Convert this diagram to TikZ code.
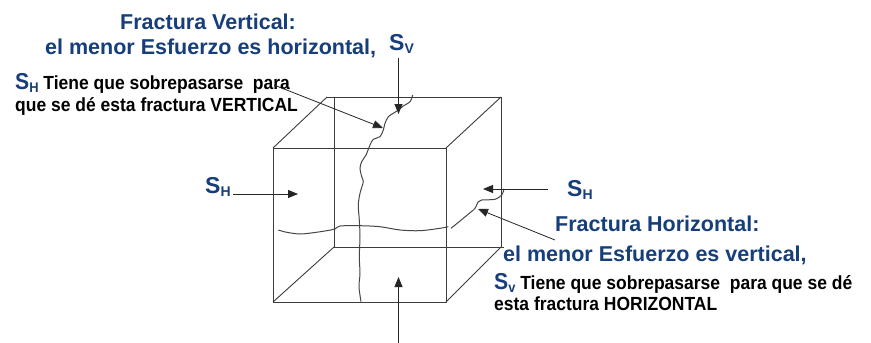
\documentclass[tikz,border=0pt]{standalone}
\usepackage{fontspec}
\setmainfont{Liberation Sans}
\newfontfamily\narrowfont[FakeStretch=0.92]{Liberation Sans}
\usetikzlibrary{arrows.meta}
\definecolor{tblue}{RGB}{22,62,122}
\definecolor{edge}{RGB}{60,60,60}
\definecolor{crack}{RGB}{70,70,70}
% stress symbol: blue S with a subscript
\newcommand\strs[1]{{\color{tblue}\bfseries\fontsize{23}{23}\selectfont S\raisebox{-3pt}{\fontsize{14}{14}\selectfont #1}}}
\tikzset{
  cubeedge/.style={draw=edge, line width=0.9pt},
  crackline/.style={draw=crack, line width=1pt},
  force/.style={draw=black!85, line width=0.9pt, -{Triangle[length=10pt,width=8pt]}},
  pointer/.style={draw=black!85, line width=0.8pt, -{Triangle[length=10pt,width=8pt]}},
  title/.style={inner sep=0pt, anchor=base west, text=tblue, font=\bfseries\fontsize{21.5}{24}\selectfont},
  note/.style={inner sep=0pt, anchor=base west, font=\narrowfont\bfseries\fontsize{19}{21}\selectfont},
  sym/.style={inner sep=0pt, anchor=base west}
}
\begin{document}
\begin{tikzpicture}[x=1pt,y=-1pt]
\useasboundingbox (0,0) rectangle (871,343);
\fill[white] (0,0) rectangle (871,343);

% cube: front face, back face and joining edges
\coordinate (f1) at (273,148);
\coordinate (f2) at (446,148);
\coordinate (f3) at (446,302);
\coordinate (f4) at (273,302);
\coordinate (b1) at (327,97);
\coordinate (b2) at (501,97);
\coordinate (b3) at (504,247);
\coordinate (bl) at (334,97);
\coordinate (b4) at (334,247);
\draw[cubeedge] (f1) -- (f2) -- (f3) -- (f4) -- cycle;
\draw[cubeedge] (b1) -- (b2) -- (501,247);
\draw[cubeedge] (bl) -- (b4) -- (b3);
\draw[cubeedge] (f1) -- (b1);
\draw[cubeedge] (f2) -- (b2);
\draw[cubeedge] (f3) -- (501,247);
\draw[cubeedge] (f4) -- (b4);

% vertical fracture
\draw[crackline] plot[smooth, tension=0.5] coordinates {
  (412.7,95) (410,101.7) (403.3,106) (398.3,110) (393.3,113.3) (388.3,116.7)
  (385,123.3) (383.3,130) (380,136.7) (373.3,139.3) (370,145) (366,155)
  (361.7,161.7) (360,168.3) (361.7,176.7) (363.3,181.7) (360,193.3) (358.3,205)
  (359.3,220) (360,236.7) (359.3,256.7) (360,273.3) (359,286.7) (361,301.7)};
% horizontal fracture
\draw[crackline] plot[smooth, tension=0.5] coordinates {
  (278.3,230) (286.7,232.3) (300,234) (313.3,232.7) (326.7,230.7) (335,229)
  (340,226) (360,225.7) (380,226.7) (400,230) (420,230.7) (440,228.3) (448.3,226.7)};
\draw[crackline] plot[smooth, tension=0.5] coordinates {
  (451,228.3) (460,221) (470,212.7) (475,208.3) (478.3,201.7) (481.7,200)
  (495,199.3) (501.7,195) (504,189)};

% points on the fractures
\coordinate (vc) at (383,128);
\coordinate (hc) at (478,209);

% texts
\node[title] (t1) at (120,29.5) {Fractura Vertical:};
\node[title] (t2) at (45,54) {el menor Esfuerzo es horizontal,};
\node[sym] (sv) at (389,50) {\strs{V}};
\node[note] (n1) at (15,89) {\strs{H} Tiene que sobrepasarse\ \ para};
\node[note] (n2) at (15,111) {que se dé esta fractura VERTICAL};

\node[sym] (shl) at (205,193) {\strs{H}};
\node[sym] (shr) at (567,196) {\strs{H}};

\node[title] (t3) at (555,231) {Fractura Horizontal:};
\node[title] (t4) at (503,261.5) {el menor Esfuerzo es vertical,};
\node[note] (n3) at (494,289) {\strs{v} Tiene que sobrepasarse\ \ para que se dé};
\node[note] (n4) at (494,310) {esta fractura HORIZONTAL};

% stress arrows
\coordinate (svs) at (398.5,58);
\coordinate (sve) at (398.5,114);
\draw[force] (svs) -- (sve);
\coordinate (sbs) at (398.5,345);
\coordinate (sbe) at (398.5,277);
\draw[force] (sbs) -- (sbe);
\coordinate (shls) at (233,194);
\coordinate (shle) at (298,194);
\draw[force] (shls) -- (shle);
\coordinate (shrs) at (548,189);
\coordinate (shre) at (483,189);
\draw[force] (shrs) -- (shre);

% pointers from the notes to the fractures
\coordinate (p1) at (274,85);
\draw[pointer] (p1) -- (vc);
\coordinate (p2) at (555,240);
\draw[pointer] (p2) -- (hc);
\end{tikzpicture}
\end{document}
